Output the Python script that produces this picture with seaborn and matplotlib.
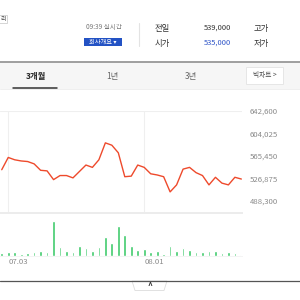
import pandas as pd
import numpy as np
from matplotlib import pyplot as plt
from matplotlib.patches import Rectangle, Polygon
import seaborn as sns

sns.set_theme(style="white")
plt.rcParams['font.family'] = ['Noto Sans CJK KR', 'DejaVu Sans']

# trading days shown in the 3-month window (cropped)
dates = ["07.02", "07.03", "07.04", "07.05", "07.08", "07.09", "07.10", "07.11",
         "07.12", "07.15", "07.16", "07.17", "07.18", "07.19", "07.22", "07.23",
         "07.24", "07.25", "07.26", "07.29", "07.30", "07.31", "08.01", "08.02",
         "08.05", "08.06", "08.07", "08.08", "08.09", "08.12", "08.13", "08.14",
         "08.16", "08.19", "08.20", "08.21", "08.22", "08.23"]
prices = [542000, 563000, 559000, 557000, 556000, 552000, 541000, 540000,
          525000, 532000, 532000, 528000, 539000, 550000, 546000, 559000,
          588000, 584000, 571000, 530000, 531000, 550000, 546000, 535000,
          533000, 530000, 504000, 516000, 543000, 546000, 537000, 532000,
          516000, 529000, 519000, 516000, 529000, 526000]
volumes = [18, 30, 28, 16, 21, 30, 32, 28, 244, 60, 35, 30, 67, 58, 37, 60,
           133, 90, 212, 145, 67, 44, 46, 30, 32, 16, 67, 37, 58, 39, 25, 25,
           32, 32, 23, 28, 21, 5]  # thousand shares
price_ticks = [642600, 604025, 565450, 526875, 488300]
date_ticks = ["07.03", "08.01"]

prev_close = "539,000"
open_price = "535,000"
tabs = ["3개월", "1년", "3년"]

df = pd.DataFrame({"date": dates, "price": prices, "volume": volumes})
df["pos"] = np.arange(len(df))

W = H = 300
fig = plt.figure(figsize=(3, 3), dpi=100)
fig.patch.set_facecolor("white")


def box(x0, y0, x1, y1):
    # pixel box (top-left origin) -> figure fraction rect
    return [x0 / W, 1 - y1 / H, (x1 - x0) / W, (y1 - y0) / H]


# overlay for the page chrome
bg = fig.add_axes([0, 0, 1, 1], zorder=0)
bg.set_xlim(0, W)
bg.set_ylim(H, 0)
bg.axis("off")

# header
bg.add_patch(Rectangle((-10, 14.5), 17, 8, fill=False, ec="#cfcfcf", lw=0.6))
bg.text(6, 18.7, "리", fontsize=4.5, color="#444", ha="right", va="center")
bg.text(122, 27, "09:39 실시간", fontsize=4.7, color="#777", ha="right", va="center")
bg.add_patch(Rectangle((84, 37.5), 37.5, 8.5, fc="#2352c4", ec="none"))
bg.text(102.5, 41.8, "회사개요 ▾", fontsize=4.5, color="white", ha="center", va="center")
bg.plot([138.5, 138.5], [23, 46], color="#e3e3e3", lw=0.8)
bg.text(155, 28, "전일", fontsize=6, color="#333", va="center")
bg.text(231, 27.5, prev_close, fontsize=5.4, color="#333", ha="right", va="center")
bg.text(254, 29, "고가", fontsize=6, color="#333", va="center")
bg.text(155, 43.5, "시가", fontsize=6, color="#333", va="center")
bg.text(231, 43, open_price, fontsize=5.4, color="#2f55c8", ha="right", va="center")
bg.text(254, 43.5, "저가", fontsize=6, color="#333", va="center")

# tab bar
bg.add_patch(Rectangle((0, 62), W, 26.5, fc="#f6f6f6", ec="none"))
bg.plot([0, W], [61.5, 61.5], color="#8f8f8f", lw=1.2)
bg.plot([0, W], [88.5, 88.5], color="#ececec", lw=0.6)
for label, cx in zip(tabs, [35.5, 112.5, 190.5]):
    bold = label == tabs[0]
    bg.text(cx, 76, label, fontsize=6, ha="center", va="center",
            color="#222" if bold else "#666", fontweight="bold" if bold else "normal")
bg.plot([13, 57], [88.3, 88.3], color="#333", lw=1.1)
bg.add_patch(Rectangle((246, 67), 37, 17, fc="white", ec="#e3e3e3", lw=0.6))
bg.text(264.5, 75.5, "빅차트 >", fontsize=4.8, color="#444", ha="center", va="center")

# bottom bar
bg.plot([0, W], [281, 281], color="#555", lw=0.9)
bg.add_patch(Polygon([(132, 281), (167, 281), (164, 290.5), (135, 290.5)],
                     closed=True, fc="white", ec="#dcdcdc", lw=0.6))
bg.text(150, 286, "^", fontsize=6, color="#333", ha="center", va="center",
        fontweight="bold")

xlim = (-0.27, 37.1)
tick_pos = [dates.index(d) for d in date_ticks]

# price panel
ax = fig.add_axes(box(0, 111, 242, 212.5), zorder=1)
ax.set_facecolor("none")
for p in tick_pos:
    ax.axvline(p, color="#efefef", lw=0.8, zorder=0)
ax.axhline(price_ticks[0], color="#efefef", lw=0.8, zorder=0)
sns.lineplot(data=df, x="pos", y="price", ax=ax, color="#ee4a2c", linewidth=1.0,
             zorder=3)
ax.set_xlim(*xlim)
ax.set_ylim(468670, price_ticks[0])
ax.set_yticks(price_ticks)
ax.set_yticklabels([f"{v:,}" for v in price_ticks])
ax.yaxis.tick_right()
ax.tick_params(axis="y", length=0, pad=5.5, labelsize=5.6, labelcolor="#8a8a8a")
ax.set_xticks([])
ax.set_xlabel("")
ax.set_ylabel("")
for s in ["top", "left", "right"]:
    ax.spines[s].set_visible(False)
ax.spines["bottom"].set_color("#ececec")
ax.spines["bottom"].set_linewidth(1.4)

# volume panel
ax2 = fig.add_axes(box(0, 216, 242, 256), zorder=1)
ax2.set_facecolor("none")
sns.barplot(data=df, x="pos", y="volume", ax=ax2, color="#3dca6a",
            saturation=1, width=0.42)
ax2.set_xlim(*xlim)
ax2.set_ylim(0, max(volumes) * 40 / 35)
ax2.set_yticks([])
ax2.set_xticks(tick_pos)
ax2.set_xticklabels(date_ticks, ha="left")
ax2.tick_params(axis="x", length=0, pad=1.5, labelsize=5.6, labelcolor="#8a8a8a")
ax2.set_xlabel("")
ax2.set_ylabel("")
for s in ["top", "left", "right"]:
    ax2.spines[s].set_visible(False)
ax2.spines["bottom"].set_color("#f2f2f2")
ax2.spines["bottom"].set_linewidth(0.6)

fig.savefig("out.png", dpi=100)
